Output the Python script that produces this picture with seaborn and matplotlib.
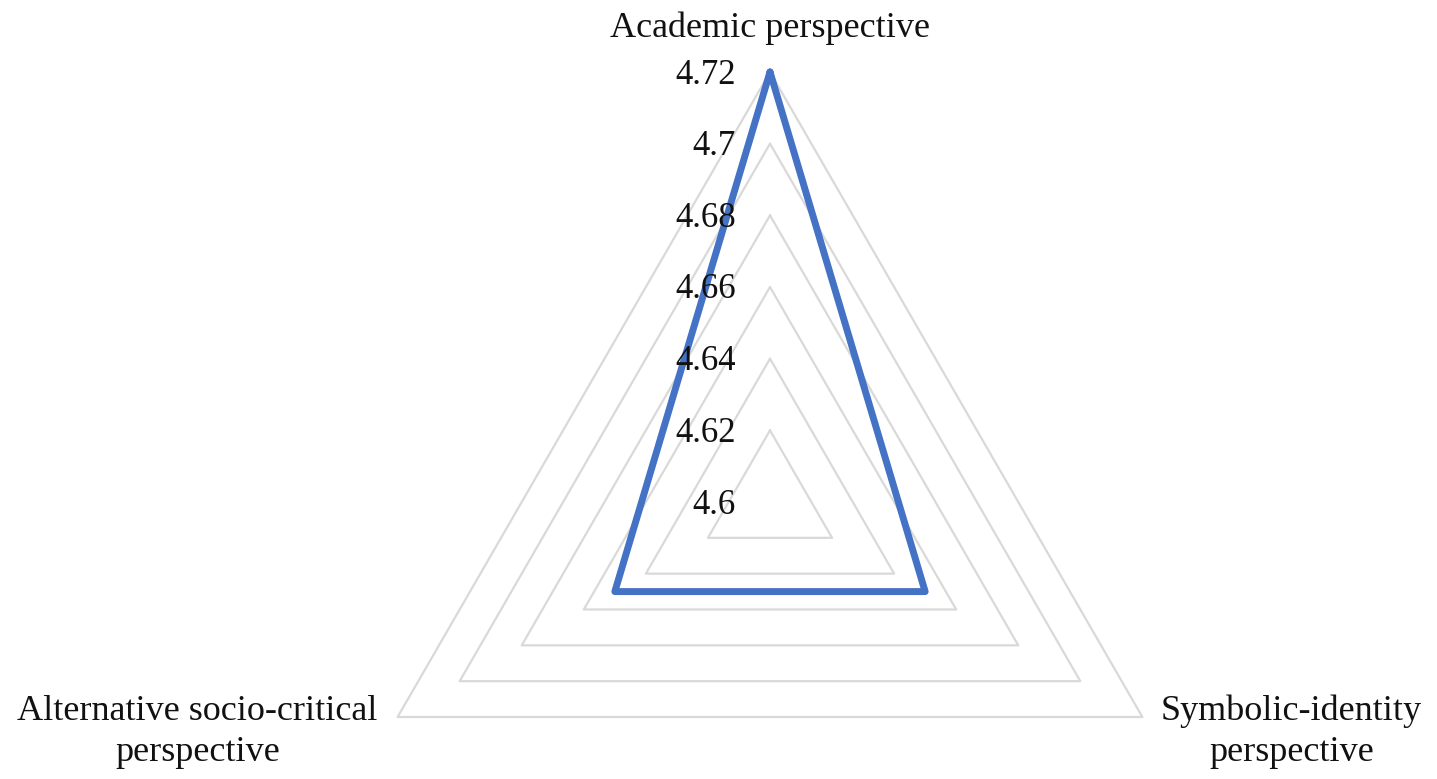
import matplotlib
matplotlib.use("Agg")
import matplotlib.pyplot as plt
import matplotlib.transforms as mtransforms
import numpy as np
import seaborn as sns

categories = ["Academic perspective",
              "Symbolic-identity\nperspective",
              "Alternative socio-critical\nperspective"]
scores = [4.72, 4.65, 4.65]
ring_levels = [4.62, 4.64, 4.66, 4.68, 4.70, 4.72]
tick_values = [4.60, 4.62, 4.64, 4.66, 4.68, 4.70, 4.72]
tick_labels = ["4.6", "4.62", "4.64", "4.66", "4.68", "4.7", "4.72"]

sns.set_theme(style="white")
plt.rcParams["font.family"] = ["Liberation Serif", "DejaVu Serif"]

fig = plt.figure(figsize=(14.37, 7.79), dpi=100)
ax = fig.add_axes([340 / 1437, (779 - 932) / 779, 860 / 1437, 860 / 779],
                  projection="polar")
ax.set_theta_offset(np.pi / 2)
ax.set_theta_direction(-1)

angles = np.linspace(0, 2 * np.pi, len(categories), endpoint=False)
closed = np.append(angles, angles[0])

# triangular grid rings
for lvl in ring_levels:
    ax.plot(closed, [lvl] * len(closed), color="#D9D9D9", lw=1.6,
            clip_on=False, zorder=1)

sns.lineplot(x=closed, y=np.append(scores, scores[0]), sort=False,
             estimator=None, ax=ax, color="#4472C4", lw=5.0, clip_on=False,
             zorder=3)
ax.lines[-1].set_solid_joinstyle("round")
ax.lines[-1].set_solid_capstyle("round")

ax.set_ylim(4.60, 4.72)
ax.grid(False)
ax.spines["polar"].set_visible(False)
ax.set_xticks([])
ax.set_yticks([])
ax.set_xlabel("")
ax.set_ylabel("")

# radial value labels along the top axis
tick_tr = mtransforms.offset_copy(ax.transData, fig=fig, x=-34, y=-3,
                                  units="dots")
for v, s in zip(tick_values, tick_labels):
    ax.text(0, v, s, transform=tick_tr, ha="right", va="center",
            fontsize=25, color="#111111", zorder=4)

# category labels
offsets = [(0, 44), (149, -15), (-200, -15)]
for ang, name, (dx, dy) in zip(angles, categories, offsets):
    tr = mtransforms.offset_copy(ax.transData, fig=fig, x=dx, y=dy,
                                 units="dots")
    ax.text(ang, 4.72, name, transform=tr, ha="center", va="center",
            multialignment="center", fontsize=26, color="#111111",
            linespacing=1.32)

fig.savefig("out.png", dpi=100)
